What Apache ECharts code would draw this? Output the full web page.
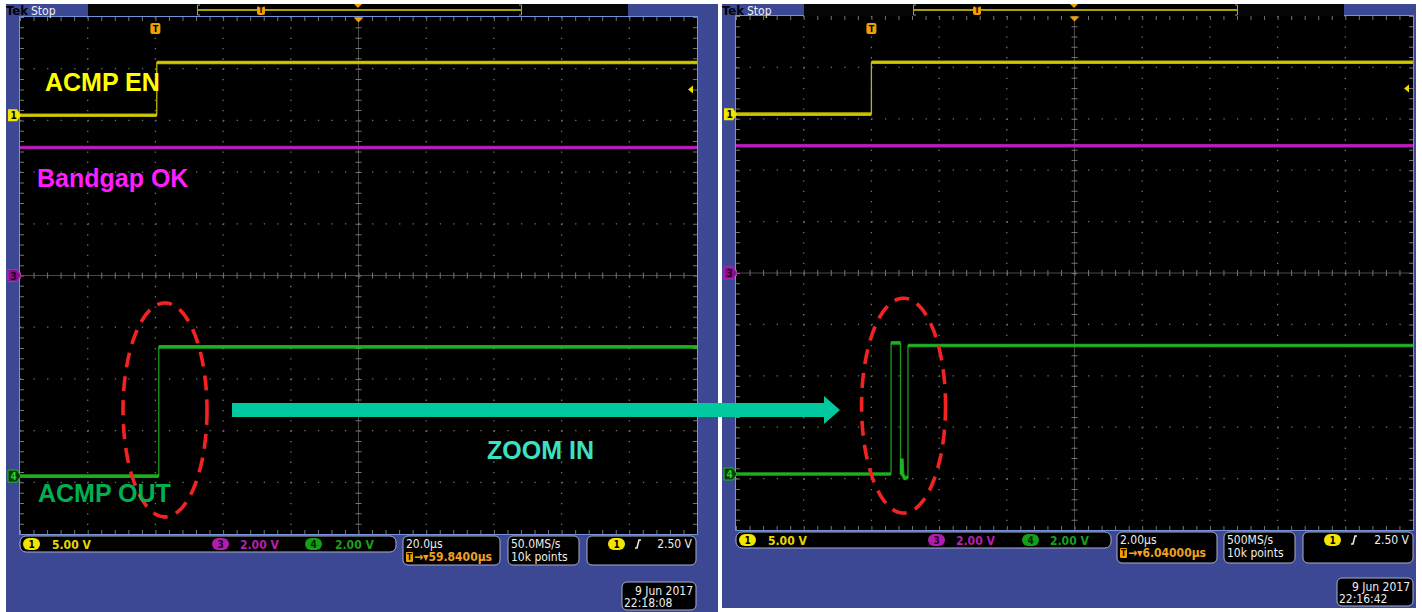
<!DOCTYPE html>
<html><head><meta charset="utf-8">
<script src="https://cdn.jsdelivr.net/npm/echarts@6.0.0/dist/echarts.min.js"></script>
<style>html,body{margin:0;padding:0;background:#fff;overflow:hidden}#c{width:1422px;height:612px}</style>
</head><body><div id="c"></div>
<script>
// ================= DATA (read from the two captures) =================
// Left capture: 20 µs/div, time in µs relative to the trigger (volts)
const leftEnTime  = [-40, 0.4, 0.4, 160];
const leftEnVolt  = [0, 0, 5.1, 5.1];
const leftBgTime  = [-40, 160];
const leftBgVolt  = [4.95, 4.95];
const leftOutTime = [-40, 1.0, 1.0, 160];
const leftOutVolt = [0, 0, 5.0, 5.0];
// Right capture (zoom in): 2 µs/div
const rightEnTime  = [-4, 0, 0, 16];
const rightEnVolt  = [0, 0, 5.05, 5.05];
const rightBgTime  = [-4, 16];
const rightBgVolt  = [4.95, 4.95];
const rightOutTime = [-4, 0.58, 0.58, 0.86, 0.86, 0.89, 0.9, 0.92, 0.99, 1.08, 1.08, 16];
const rightOutVolt = [0, 0, 5.1, 5.1, 0, 0, 0.6, 0, -0.2, -0.1, 5.0, 5.0];
// Scope settings
const channelNames = ['1', '3', '4'];
const channelVoltsPerDiv = [5, 2, 2];
const leftTimeRange = [-40, 160];
const rightTimeRange = [-4, 16];
const leftChannelGround = [3.1, 0, -3.88];   // divisions from screen centre
const rightChannelGround = [3.09, 0, -3.91];
const triggerLevel = 2.5;
const traceLabels = ['ACMP EN', 'Bandgap OK', 'ACMP OUT'];
const zoomLabel = 'ZOOM IN';
const leftStatus = { ch: ['5.00 V', '2.00 V', '2.00 V'], tdiv: '20.0µs', pos: '→▾59.8400µs', rate: '50.0MS/s', rec: '10k points', trig: '2.50 V', date: '9 Jun 2017', time: '22:18:08' };
const rightStatus = { ch: ['5.00 V', '2.00 V', '2.00 V'], tdiv: '2.00µs', pos: '→▾6.04000µs', rate: '500MS/s', rec: '10k points', trig: '2.50 V', date: '9 Jun 2017', time: '22:16:42' };

// ================= CHART =================
const chart = echarts.init(document.getElementById('c'), null, { renderer: 'svg', width: 1422, height: 612 });
const GRIDS = [{ left: 20, top: 17, width: 677, height: 517 }, { left: 736, top: 16, width: 677, height: 514 }];
const CH_COLORS = ['#d8d000', '#c81ec8', '#22bd22'];
const CH_EDGE = ['#bdb400', '#b018b0', '#1a9c1a'];

function chAxis(g, vdiv, pos) { return { type: 'value', gridIndex: g, min: (-5 - pos) * vdiv, max: (5 - pos) * vdiv, show: false }; }
const yAxes = [];
[leftChannelGround, rightChannelGround].forEach((gnd, g) => {
  yAxes.push({ type: 'value', gridIndex: g, min: -5, max: 5, show: false });
  gnd.forEach((p, i) => yAxes.push(chAxis(g, channelVoltsPerDiv[i], p)));
});
const xAxes = [
  { type: 'value', gridIndex: 0, min: leftTimeRange[0], max: leftTimeRange[1], show: false },
  { type: 'value', gridIndex: 1, min: rightTimeRange[0], max: rightTimeRange[1], show: false }
];

function graticule(params, api) {
  const cs = params.coordSys;
  const x0 = cs.x, y0 = cs.y, w = cs.width, h = cs.height, dx = w / 10, dy = h / 10;
  const ch = []; const dot = '#747474';
  const L = (x1, y1, x2, y2, st) => ch.push({ type: 'line', shape: { x1, y1, x2, y2 }, style: Object.assign({ fill: null, lineCap: 'butt' }, st) });
  for (let i = 1; i < 10; i++) {
    if (i === 5) continue;
    const x = x0 + i * dx; L(x, y0, x, y0 + h, { stroke: dot, lineWidth: 1.3, lineDash: [1.3, dy / 5 - 1.3] });
    const y = y0 + i * dy; L(x0, y, x0 + w, y, { stroke: dot, lineWidth: 1.3, lineDash: [1.3, dx / 5 - 1.3] });
  }
  const cx = x0 + 5 * dx, cy = y0 + 5 * dy;
  L(x0, cy, x0 + w, cy, { stroke: '#4c4842', lineWidth: 1 });
  L(cx, y0, cx, y0 + h, { stroke: '#4c4842', lineWidth: 1 });
  L(x0, cy, x0 + w, cy, { stroke: dot, lineWidth: 6, lineDash: [1, dx / 5 - 1] });
  L(cx, y0, cx, y0 + h, { stroke: dot, lineWidth: 6, lineDash: [1, dy / 5 - 1] });
  L(x0, y0 + 2, x0 + w, y0 + 2, { stroke: dot, lineWidth: 4, lineDash: [1, dx / 5 - 1] });
  L(x0, y0 + h - 2, x0 + w, y0 + h - 2, { stroke: dot, lineWidth: 4, lineDash: [1, dx / 5 - 1] });
  L(x0 + 2, y0, x0 + 2, y0 + h, { stroke: dot, lineWidth: 4, lineDash: [1, dy / 5 - 1] });
  L(x0 + w - 2, y0, x0 + w - 2, y0 + h, { stroke: dot, lineWidth: 4, lineDash: [1, dy / 5 - 1] });
  ch.push({ type: 'rect', shape: { x: x0 - 0.5, y: y0 - 0.5, width: w + 1, height: h + 1 }, style: { fill: null, stroke: '#7494dc', lineWidth: 1 } });
  return { type: 'group', children: ch };
}

function pairs(t, v) { return t.map((x, i) => [x, v[i]]); }
function bandPairs(t, v) {
  const out = [];
  t.forEach((x, i) => { if (i > 0 && x === t[i - 1]) out.push([x, '-']); out.push([x, v[i]]); });
  return out;
}
const series = [];
[0, 1].forEach(g => series.push({ type: 'custom', xAxisIndex: g, yAxisIndex: g * 4, data: [[0, 0]], renderItem: graticule, clip: false, z: 2, silent: true, animation: false }));
function addTrace(g, ch, t, v) {
  const common = { type: 'line', xAxisIndex: g, yAxisIndex: g * 4 + 1 + ch, symbol: 'none', showSymbol: false, silent: true, animation: false, connectNulls: false };
  series.push(Object.assign({}, common, { data: pairs(t, v), lineStyle: { color: CH_EDGE[ch], width: 1.3 }, z: 3 }));
  series.push(Object.assign({}, common, { data: bandPairs(t, v), lineStyle: { color: CH_COLORS[ch], width: 3.6, opacity: 0.85 }, z: 4 }));
}
addTrace(0, 0, leftEnTime, leftEnVolt);
addTrace(0, 1, leftBgTime, leftBgVolt);
addTrace(0, 2, leftOutTime, leftOutVolt);
addTrace(1, 0, rightEnTime, rightEnVolt);
addTrace(1, 1, rightBgTime, rightBgVolt);
addTrace(1, 2, rightOutTime, rightOutVolt);

chart.setOption({ animation: false, backgroundColor: '#ffffff', grid: GRIDS, xAxis: xAxes, yAxis: yAxes, series: series });

// ================= CHROME & ANNOTATIONS =================
const SF = '"DejaVu Sans Condensed", "DejaVu Sans", sans-serif';
const AF = '"Liberation Sans", Arial, sans-serif';
function T(x, y, text, fill, font, align, z) {
  return { type: 'text', x, y, z: z || 10, silent: true, style: { text, fill, font, textAlign: align || 'left', align: align || 'left', textVerticalAlign: 'middle', verticalAlign: 'middle' } };
}
function R(x, y, w, h, fill, stroke, r, z) {
  return { type: 'rect', z: z === undefined ? 10 : z, silent: true, shape: { x, y, width: w, height: h, r: r || 0 }, style: { fill, stroke: stroke || null, lineWidth: 1 } };
}
function P(points, fill, z) { return { type: 'polygon', z: z || 10, silent: true, shape: { points }, style: { fill } }; }
function ellipse(cx, cy, rx, ry) {
  const pts = []; for (let i = 0; i < 90; i++) { const a = i / 90 * Math.PI * 2; pts.push([cx + rx * Math.cos(a), cy + ry * Math.sin(a)]); }
  return { type: 'polygon', z: 12, silent: true, shape: { points: pts }, style: { fill: 'none', stroke: '#f52222', lineWidth: 3.6, lineDash: [15, 9] } };
}

function buildGraphic() {
  const G = [];
  const X = (g, v) => chart.convertToPixel({ xAxisIndex: g }, v);
  const Y = (g, a, v) => chart.convertToPixel({ yAxisIndex: g * 4 + a }, v);
  // panels
  G.push(R(6, 4, 712, 608, '#3c4894', null, 0, 0));
  G.push(R(722, 4, 694, 604, '#3c4894', null, 0, 0));
  GRIDS.forEach(gr => G.push(R(gr.left, gr.top, gr.width, gr.height, '#000', null, 0, 1)));
  // headers
  [0, 716].forEach(ox => {
    G.push(T(6 + ox, 10.5, 'Tek', '#000', 'bold 13px ' + SF, 'left', 5));
    G.push(T(31 + ox, 10.5, 'Stop', '#f0f0f0', '12px ' + SF, 'left', 5));
    G.push(R(88 + ox, 4, 109, 12, '#050505', null, 0, 5));
    G.push(R(197 + ox, 4, 325, 12, '#000', null, 0, 5));
    G.push({ type: 'line', z: 6, silent: true, shape: { x1: 198 + ox, y1: 10, x2: 521 + ox, y2: 10 }, style: { stroke: '#a9a200', lineWidth: 2 } });
    G.push({ type: 'polyline', z: 6, silent: true, shape: { points: [[200 + ox, 5], [197.5 + ox, 5], [197.5 + ox, 15], [200 + ox, 15]] }, style: { stroke: '#999', lineWidth: 1, fill: 'none' } });
    G.push({ type: 'polyline', z: 6, silent: true, shape: { points: [[519 + ox, 5], [521.5 + ox, 5], [521.5 + ox, 15], [519 + ox, 15]] }, style: { stroke: '#999', lineWidth: 1, fill: 'none' } });
    G.push(R(522 + ox, 4, 106, 12, '#050505', null, 0, 5));
    G.push(R(257 + ox, 6, 8, 9, '#f0a000', null, 2, 7));
    G.push(T(261 + ox, 10.5, 'T', '#000', 'bold 8px ' + SF, 'center', 8));
    G.push(P([[354 + ox, 4], [362 + ox, 4], [358 + ox, 8]], '#f0a000', 7));
  });
  // plot markers
  [0, 1].forEach(g => {
    const gr = GRIDS[g];
    const tx = X(g, 0);
    G.push(R(tx - 5, 23, 10, 11, '#f0a000', null, 2, 11));
    G.push(T(tx, 28.5, 'T', '#000', 'bold 9px ' + SF, 'center', 12));
    const cx = gr.left + gr.width / 2;
    G.push(P([[cx - 5, gr.top + 0.5], [cx + 5, gr.top + 0.5], [cx, gr.top + 5.5]], '#f0a000', 11));
    const ty = Y(g, 1, triggerLevel), rx = gr.left + gr.width;
    G.push(P([[rx - 9, ty], [rx - 4, ty - 4], [rx - 4, ty + 4]], '#e8e000', 11));
    channelNames.forEach((nm, i) => {
      const y = Y(g, i + 1, 0), x0 = gr.left - 12;
      const pts = [[x0, y - 6], [x0 + 9, y - 6], [x0 + 13, y], [x0 + 9, y + 6], [x0, y + 6]];
      if (i === 0) { G.push(P(pts, '#f2e600', 11)); G.push(T(x0 + 5.5, y + 0.5, nm, '#000', 'bold 10px ' + SF, 'center', 12)); }
      else {
        G.push({ type: 'polygon', z: 11, silent: true, shape: { points: pts }, style: { fill: i === 1 ? '#8a108a' : '#0b3a0b', stroke: CH_COLORS[i], lineWidth: 1 } });
        G.push(T(x0 + 5.5, y + 0.5, nm, i === 1 ? '#1a001a' : '#2ad02a', 'bold 10px ' + SF, 'center', 12));
      }
    });
  });
  // trace labels
  G.push(T(45, 82, traceLabels[0], '#ffff00', 'bold 25px ' + AF, 'left', 15));
  G.push(T(37, 178, traceLabels[1], '#ff1eff', 'bold 25px ' + AF, 'left', 15));
  G.push(T(38, 493, traceLabels[2], '#00b050', 'bold 25px ' + AF, 'left', 15));
  G.push(T(487, 450, zoomLabel, '#3ee0c2', 'bold 25px ' + AF, 'left', 15));
  // arrow
  G.push(P([[232, 403], [824, 403], [824, 396], [840, 410], [824, 424], [824, 417], [232, 417]], '#00c9a0', 14));
  // ellipses around the output transitions
  G.push(ellipse(X(0, 2.84), Y(0, 0, -2.6), 42, 107));
  G.push(ellipse(X(1, 0.95), Y(1, 0, -2.58), 42, 107.5));
  // status bars
  const boxStroke = '#a8aecb';
  function status(s, o) {
    G.push(R(o.bar[0], o.bar[1], o.bar[2], 16, '#000', boxStroke, 6, 10));
    const ovF = ['#f2e600', '#b01cb0', '#14a014'], ovT = ['#000', '#1a001a', '#002000'], valC = ['#e2da00', '#b421b4', '#17a317'];
    o.ov.forEach((x, i) => {
      G.push(R(x, o.bar[1] + 2, 17, 12, ovF[i], null, 6, 11));
      G.push(T(x + 8.5, o.bar[1] + 8.5, channelNames[i], ovT[i], 'bold 10px ' + SF, 'center', 12));
      G.push(T(o.val[i], o.bar[1] + 8.5, s.ch[i], valC[i], 'bold 12px ' + SF, 'left', 12));
    });
    const by = o.bar[1];
    G.push(R(o.tb[0], by, o.tb[1], o.bh, '#000', boxStroke, 5, 10));
    G.push(T(o.tb[0] + 3, by + 8, s.tdiv, '#eeeeee', '12px ' + SF, 'left', 12));
    G.push(R(o.tb[0] + 3, by + 16, 7, 10, '#f0a000', null, 1, 11));
    G.push(T(o.tb[0] + 6.5, by + 21.5, 'T', '#000', 'bold 8px ' + SF, 'center', 12));
    G.push(T(o.tb[0] + 11, by + 21, s.pos, '#f0a020', 'bold 12px ' + SF, 'left', 12));
    G.push(R(o.sb[0], by, o.sb[1], o.bh, '#000', boxStroke, 5, 10));
    G.push(T(o.sb[0] + 3, by + 8, s.rate, '#eeeeee', '12px ' + SF, 'left', 12));
    G.push(T(o.sb[0] + 3, by + 21, s.rec, '#eeeeee', '12px ' + SF, 'left', 12));
    G.push(R(o.trb[0], by, o.trb[1], o.bh, '#000', boxStroke, 5, 10));
    G.push(R(o.trOv, by + 2, 17, 12, '#f2e600', null, 6, 11));
    G.push(T(o.trOv + 8.5, by + 8.5, '1', '#000', 'bold 10px ' + SF, 'center', 12));
    const sx = o.trOv + 27, sy = by + 8;
    G.push({ type: 'polyline', z: 12, silent: true, shape: { points: [[sx, sy + 4], [sx + 2, sy + 4], [sx + 4, sy - 4], [sx + 6, sy - 4]] }, style: { stroke: '#eeeeee', lineWidth: 1.5, fill: 'none' } });
    G.push(T(o.trb[0] + o.trb[1] - 4, by + 8, s.trig, '#eeeeee', '12px ' + SF, 'right', 12));
    G.push(R(o.db[0], o.db[1], o.db[2], 28, '#000', boxStroke, 5, 10));
    G.push(T(o.db[0] + o.db[2] - 3, o.db[1] + 8.5, s.date, '#eeeeee', '12px ' + SF, 'right', 12));
    G.push(T(o.db[0] + 2, o.db[1] + 21, s.time, '#eeeeee', '12px ' + SF, 'left', 12));
  }
  status(leftStatus, { bar: [20, 536, 376], ov: [23, 212, 305], val: [52, 240, 335], bh: 29, tb: [403, 97], sb: [508, 71], trb: [587, 109], trOv: 608, db: [622, 582, 74] });
  status(rightStatus, { bar: [736, 532, 375], ov: [739, 928, 1022], val: [768, 956, 1050], bh: 31, tb: [1117, 100], sb: [1224, 71], trb: [1303, 110], trOv: 1324, db: [1337, 578, 76] });
  return G;
}
chart.setOption({ graphic: { elements: buildGraphic() } });
</script>
</body></html>
